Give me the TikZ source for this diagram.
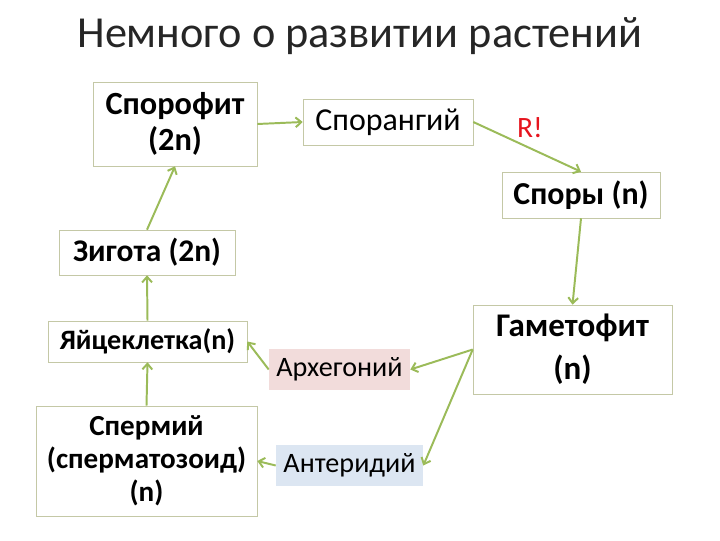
\documentclass[tikz,border=0pt]{standalone}
\usepackage{fontspec}
\setmainfont{Carlito}
\usepackage{xcolor}
\definecolor{leafgreen}{RGB}{155,187,89}
\definecolor{boxline}{RGB}{196,200,166}
\definecolor{archpink}{RGB}{242,220,219}
\definecolor{antblue}{RGB}{220,230,242}
\definecolor{alertred}{RGB}{230,20,30}
\usepackage{tikz}
\usetikzlibrary{arrows.meta, positioning}

\begin{document}
\begin{tikzpicture}[
    x=0.025cm, y=-0.025cm,
    stagebox/.style = {rectangle, draw=boxline, fill=white, thin,
                       align=center, inner sep=2pt,
                       font=\fontsize{20}{25}\selectfont\bfseries},
    organbox/.style = {rectangle, draw=none, align=center, inner sep=2pt,
                       font=\fontsize{20}{25}\selectfont},
    cycleArr/.style = {-{Straight Barb[length=4pt, width=7pt]},
                       line width=1.4pt, draw=leafgreen}
]
\useasboundingbox (0,0) rectangle (720,540);

% ===== Title =====
\node[font=\fontsize{31.5}{36}\selectfont, text=black!85] (title) at (360,36)
   {Немного о развитии растений};

% ===== Sporophyte generation (top row) =====
\node[stagebox, font=\fontsize{23}{26}\selectfont\bfseries,
      minimum width=4.1cm, minimum height=2.1cm] (sporo) at (175,124)
   {Спорофит\\(2n)};
\node[stagebox, font=\fontsize{22.7}{26}\selectfont,
      minimum width=4.25cm, minimum height=1.15cm] (sporang) at (388,122)
   {Спорангий};
\node[font=\fontsize{21}{25}\selectfont, text=alertred] (rmark) at (530,128) {R!};
\node[stagebox, font=\fontsize{22.7}{26}\selectfont\bfseries,
      minimum width=3.95cm, minimum height=1.15cm] (spores) at (581,195)
   {Споры (n)};

% ===== Gametophyte generation (right / bottom) =====
\node[stagebox, font=\fontsize{23.5}{30.5}\selectfont\bfseries,
      minimum width=4.975cm, minimum height=2.225cm] (gameto) at (572.5,349.5)
   {Гаметофит\\(n)};
\node[organbox, fill=archpink, minimum width=3.525cm, minimum height=1.025cm]
   (archeg) at (339.5,369.5) {Архегоний};
\node[organbox, fill=antblue, minimum width=3.675cm, minimum height=1.025cm]
   (anther) at (349.5,465.5) {Антеридий};

% ===== Gametes and zygote (left column) =====
\node[stagebox, font=\fontsize{22.4}{26}\selectfont\bfseries,
      minimum width=4.4cm, minimum height=1.125cm] (zygote) at (147,252.5)
   {Зигота (2n)};
\node[stagebox, minimum width=4.975cm, minimum height=1.025cm] (egg) at (147.5,341.5)
   {Яйцеклетка(n)};
\node[stagebox, font=\fontsize{20.7}{23.4}\selectfont\bfseries,
      minimum width=5.525cm, minimum height=2.75cm] (sperm) at (146.5,461)
   {Спермий\\(сперматозоид)\\(n)};

% ===== Cycle arrows =====
\draw[cycleArr] (sporo.east) -- (sporang.west);
\draw[cycleArr] (sporang.east) -- (spores.north);
\draw[cycleArr] (spores.south) -- (gameto.north);
\draw[cycleArr] (gameto.west) -- (archeg.east);
\draw[cycleArr] (gameto.west) -- (anther.east);
\draw[cycleArr] (archeg.west) -- (egg.east);
\draw[cycleArr] (anther.west) -- (sperm.east);
\draw[cycleArr] (sperm.north) -- (egg.south);
\draw[cycleArr] (egg.north) -- (zygote.south);
\draw[cycleArr] (zygote.north) -- (sporo.south);

\end{tikzpicture}
\end{document}
